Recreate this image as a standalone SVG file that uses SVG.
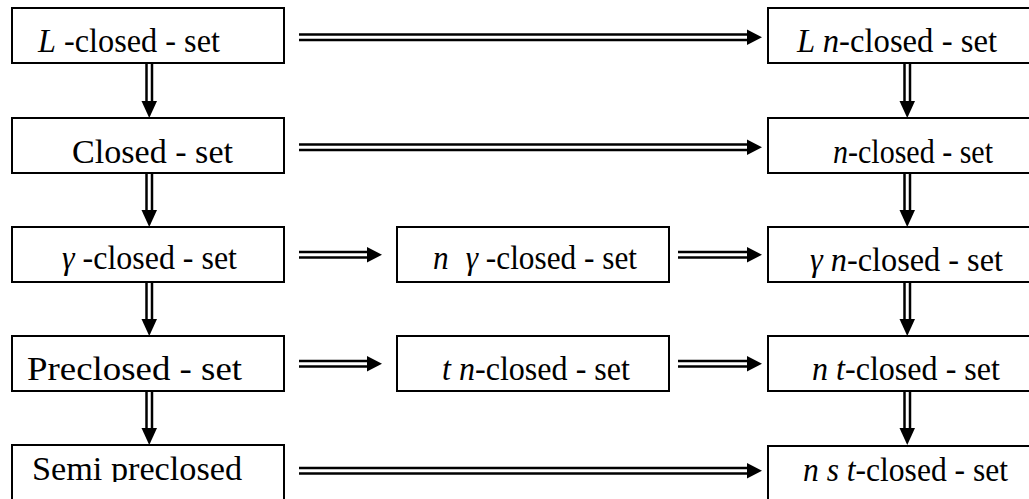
<svg xmlns="http://www.w3.org/2000/svg" width="1029" height="499" viewBox="0 0 1029 499">
<style>
.box{fill:#fff;stroke:#000;stroke-width:2}
.t{font-family:'Liberation Serif','DejaVu Serif',serif;font-size:34px;fill:#000}
.i{font-style:italic}
.ln{stroke:#000;stroke-width:2.5;fill:none}
.hd{fill:#000;stroke:none}
</style>
<defs>
  <clipPath id="cut"><rect x="0" y="440" width="1029" height="42"/></clipPath>
</defs>
<rect width="1029" height="499" fill="#fff"/>
<g id="connectors">
  <g><line class="ln" x1="299" y1="34.5" x2="748" y2="34.5"/><line class="ln" x1="299" y1="40" x2="748" y2="40"/><polygon class="hd" points="747,29.5 762,37.25 747,45"/></g>
  <g><line class="ln" x1="299" y1="144.5" x2="748" y2="144.5"/><line class="ln" x1="299" y1="150" x2="748" y2="150"/><polygon class="hd" points="747,139.5 762,147.25 747,155"/></g>
  <g><line class="ln" x1="299" y1="252" x2="368" y2="252"/><line class="ln" x1="299" y1="257.5" x2="368" y2="257.5"/><polygon class="hd" points="367,247 382,254.75 367,262.5"/></g>
  <g><line class="ln" x1="678" y1="252" x2="748" y2="252"/><line class="ln" x1="678" y1="257.5" x2="748" y2="257.5"/><polygon class="hd" points="747,247 762,254.75 747,262.5"/></g>
  <g><line class="ln" x1="299" y1="361" x2="368" y2="361"/><line class="ln" x1="299" y1="366.5" x2="368" y2="366.5"/><polygon class="hd" points="367,356 382,363.75 367,371.5"/></g>
  <g><line class="ln" x1="678" y1="361" x2="748" y2="361"/><line class="ln" x1="678" y1="366.5" x2="748" y2="366.5"/><polygon class="hd" points="747,356 762,363.75 747,371.5"/></g>
  <g><line class="ln" x1="299" y1="468" x2="748" y2="468"/><line class="ln" x1="299" y1="473.5" x2="748" y2="473.5"/><polygon class="hd" points="747,463 762,470.75 747,478.5"/></g>
  <g><line class="ln" x1="146.5" y1="63" x2="146.5" y2="102"/><line class="ln" x1="152" y1="63" x2="152" y2="102"/><polygon class="hd" points="141.5,101 149.25,118 157,101"/></g>
  <g><line class="ln" x1="146.5" y1="173" x2="146.5" y2="211"/><line class="ln" x1="152" y1="173" x2="152" y2="211"/><polygon class="hd" points="141.5,210 149.25,227 157,210"/></g>
  <g><line class="ln" x1="146.5" y1="282" x2="146.5" y2="320"/><line class="ln" x1="152" y1="282" x2="152" y2="320"/><polygon class="hd" points="141.5,319 149.25,336 157,319"/></g>
  <g><line class="ln" x1="146.5" y1="391" x2="146.5" y2="429"/><line class="ln" x1="152" y1="391" x2="152" y2="429"/><polygon class="hd" points="141.5,428 149.25,445 157,428"/></g>
  <g><line class="ln" x1="904.5" y1="63" x2="904.5" y2="102"/><line class="ln" x1="910" y1="63" x2="910" y2="102"/><polygon class="hd" points="899.5,101 907.25,118 915,101"/></g>
  <g><line class="ln" x1="904.5" y1="173" x2="904.5" y2="211"/><line class="ln" x1="910" y1="173" x2="910" y2="211"/><polygon class="hd" points="899.5,210 907.25,227 915,210"/></g>
  <g><line class="ln" x1="904.5" y1="282" x2="904.5" y2="320"/><line class="ln" x1="910" y1="282" x2="910" y2="320"/><polygon class="hd" points="899.5,319 907.25,336 915,319"/></g>
  <g><line class="ln" x1="904.5" y1="391" x2="904.5" y2="429"/><line class="ln" x1="910" y1="391" x2="910" y2="429"/><polygon class="hd" points="899.5,428 907.25,445 915,428"/></g>
</g>
<g id="n-Lclosed"><rect class="box" x="12" y="8" width="272" height="55"/><text class="t" x="38" y="52" textLength="182" lengthAdjust="spacingAndGlyphs"><tspan class="i">L</tspan> -closed - set</text></g>
<g id="n-closed"><rect class="box" x="12" y="118" width="272" height="55"/><text class="t" x="72" y="163" textLength="161" lengthAdjust="spacingAndGlyphs">Closed - set</text></g>
<g id="n-gclosed"><rect class="box" x="12" y="227" width="272" height="55"/><text class="t" x="62" y="269" textLength="175" lengthAdjust="spacingAndGlyphs"><tspan class="i">γ</tspan> -closed - set</text></g>
<g id="n-preclosed"><rect class="box" x="12" y="336" width="272" height="55"/><text class="t" x="27" y="380" textLength="215" lengthAdjust="spacingAndGlyphs">Preclosed - set</text></g>
<g id="n-semipre"><rect class="box" x="12" y="445" width="272" height="70"/><text class="t" x="32" y="480" textLength="210" lengthAdjust="spacingAndGlyphs" clip-path="url(#cut)">Semi preclosed</text></g>
<g id="n-ngclosed"><rect class="box" x="397" y="227" width="272" height="55"/><text class="t" x="433" y="269" textLength="204" lengthAdjust="spacingAndGlyphs"><tspan class="i">n</tspan> <tspan class="i" dx="10">γ</tspan> -closed - set</text></g>
<g id="n-tnclosed"><rect class="box" x="397" y="336" width="272" height="55"/><text class="t" x="442" y="380" textLength="188" lengthAdjust="spacingAndGlyphs"><tspan class="i">t n</tspan>-closed - set</text></g>
<g id="n-Lnclosed"><rect class="box" x="768" y="8" width="272" height="55"/><text class="t" x="797" y="52" textLength="200" lengthAdjust="spacingAndGlyphs"><tspan class="i">L n</tspan>-closed - set</text></g>
<g id="n-nclosed"><rect class="box" x="768" y="118" width="272" height="55"/><text class="t" x="833" y="163" textLength="160" lengthAdjust="spacingAndGlyphs"><tspan class="i">n</tspan>-closed - set</text></g>
<g id="n-gnclosed"><rect class="box" x="768" y="227" width="272" height="55"/><text class="t" x="810" y="271" textLength="193" lengthAdjust="spacingAndGlyphs"><tspan class="i">γ n</tspan>-closed - set</text></g>
<g id="n-ntclosed"><rect class="box" x="768" y="336" width="272" height="55"/><text class="t" x="812" y="380" textLength="188" lengthAdjust="spacingAndGlyphs"><tspan class="i">n t</tspan>-closed - set</text></g>
<g id="n-nstclosed"><rect class="box" x="768" y="446" width="272" height="70"/><text class="t" x="803" y="481" textLength="205" lengthAdjust="spacingAndGlyphs"><tspan class="i">n s t</tspan>-closed - set</text></g>
</svg>
